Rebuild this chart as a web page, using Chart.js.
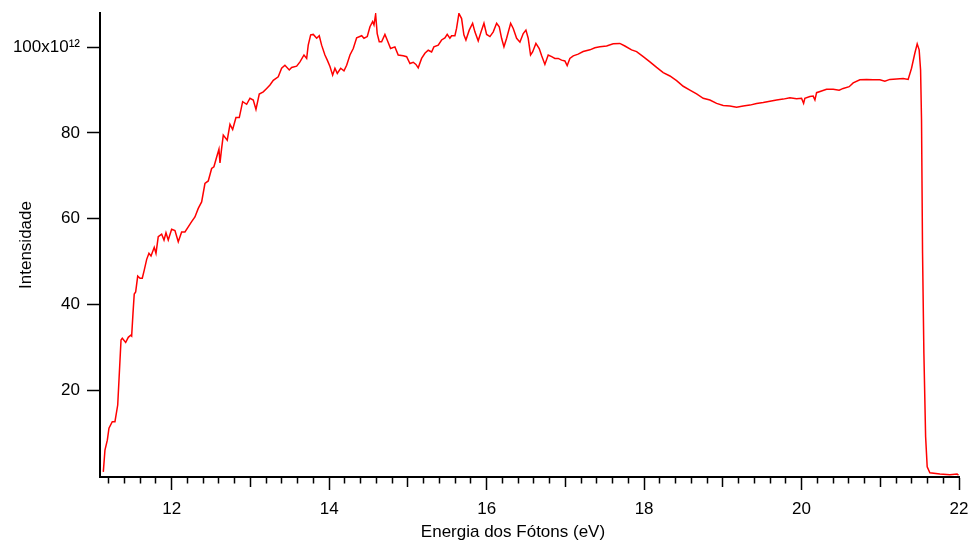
<!DOCTYPE html>
<html>
<head>
<meta charset="utf-8">
<script src="https://cdn.jsdelivr.net/npm/chart.js@4.4.0/dist/chart.umd.min.js"></script>
<style>
html,body{margin:0;padding:0;background:#fff;overflow:hidden}
canvas{display:block}
</style>
</head>
<body>
<canvas id="c" width="969" height="543"></canvas>
<script>
// Photon energy (eV)
const energy = [
11.131, 11.152, 11.182, 11.203, 11.245, 11.279, 11.314, 11.330, 11.356, 11.372,
11.415, 11.448, 11.479, 11.491, 11.508, 11.524, 11.542, 11.568, 11.597, 11.626,
11.651, 11.682, 11.711, 11.737, 11.778, 11.800, 11.829, 11.872, 11.902, 11.927,
11.956, 11.999, 12.041, 12.083, 12.126, 12.168, 12.210, 12.253, 12.295, 12.337,
12.380, 12.422, 12.464, 12.507, 12.536, 12.571, 12.600, 12.613, 12.634, 12.655,
12.705, 12.740, 12.774, 12.816, 12.858, 12.901, 12.952, 12.994, 13.036, 13.070,
13.112, 13.163, 13.206, 13.248, 13.290, 13.353, 13.396, 13.438, 13.493, 13.523,
13.587, 13.629, 13.680, 13.714, 13.734, 13.765, 13.798, 13.841, 13.874, 13.904,
13.946, 13.976, 14.010, 14.044, 14.073, 14.103, 14.146, 14.188, 14.222, 14.264,
14.306, 14.349, 14.413, 14.442, 14.484, 14.518, 14.552, 14.569, 14.590, 14.610,
14.636, 14.666, 14.708, 14.737, 14.780, 14.835, 14.877, 14.940, 14.984, 15.026,
15.068, 15.102, 15.131, 15.174, 15.216, 15.258, 15.301, 15.330, 15.385, 15.428,
15.470, 15.499, 15.533, 15.555, 15.597, 15.618, 15.648, 15.682, 15.711, 15.737,
15.779, 15.822, 15.851, 15.893, 15.936, 15.966, 16.000, 16.042, 16.084, 16.127,
16.160, 16.190, 16.220, 16.254, 16.305, 16.338, 16.381, 16.423, 16.465, 16.499,
16.528, 16.558, 16.584, 16.626, 16.668, 16.699, 16.740, 16.782, 16.826, 16.867,
16.909, 16.952, 16.994, 17.023, 17.057, 17.100, 17.163, 17.226, 17.312, 17.375,
17.439, 17.524, 17.608, 17.692, 17.756, 17.841, 17.905, 17.989, 18.074, 18.159,
18.243, 18.328, 18.413, 18.497, 18.582, 18.667, 18.751, 18.836, 18.921, 19.005,
19.090, 19.175, 19.259, 19.344, 19.429, 19.513, 19.598, 19.683, 19.767, 19.852,
19.937, 20.000, 20.026, 20.042, 20.106, 20.148, 20.170, 20.191, 20.254, 20.318,
20.402, 20.478, 20.529, 20.605, 20.656, 20.741, 20.826, 20.910, 20.995, 21.058,
21.122, 21.207, 21.291, 21.354, 21.397, 21.439, 21.469, 21.494, 21.512, 21.524,
21.537, 21.554, 21.576, 21.596, 21.630, 21.757, 21.884, 21.976, 21.994
];

// Intensity (units of 10^12)
const intensity = [
0.9, 6.0, 8.3, 11.1, 12.6, 12.6, 16.5, 22.3, 31.7, 32.1,
31.1, 32.3, 32.8, 32.6, 37.9, 42.4, 42.9, 46.6, 46.1, 46.1,
48.0, 50.5, 51.9, 51.3, 53.3, 51.9, 55.8, 56.4, 55.0, 56.7,
55.0, 57.5, 57.2, 54.6, 56.9, 56.9, 58.1, 59.3, 60.4, 62.4,
63.9, 68.2, 68.8, 71.7, 72.1, 74.4, 76.2, 73.0, 76.4, 79.5,
78.3, 82.0, 80.8, 83.6, 83.6, 87.3, 86.7, 88.1, 87.7, 85.5,
89.1, 89.6, 90.4, 91.2, 92.3, 93.1, 95.1, 95.8, 94.7, 95.3,
95.6, 96.6, 98.2, 97.4, 100.5, 102.9, 103.0, 102.1, 102.7, 100.5,
98.2, 97.0, 95.5, 93.5, 95.1, 93.9, 95.1, 94.5, 95.8, 98.2,
99.7, 102.2, 102.7, 102.1, 102.5, 104.8, 106.0, 105.2, 107.7, 103.2,
101.3, 101.3, 103.0, 101.7, 99.7, 100.1, 98.2, 98.0, 97.8, 96.2,
96.5, 96.0, 95.2, 97.4, 98.6, 99.3, 98.9, 100.1, 100.5, 101.7,
102.2, 103.0, 102.1, 102.7, 102.7, 104.4, 107.9, 106.7, 102.9, 101.7,
104.0, 105.6, 103.6, 101.5, 104.0, 105.6, 103.0, 102.5, 103.6, 105.6,
104.8, 102.1, 100.1, 102.1, 105.6, 104.4, 102.1, 101.2, 103.2, 104.0,
102.1, 98.2, 98.9, 100.9, 99.7, 98.0, 96.0, 98.2, 97.8, 97.4,
97.4, 97.0, 96.8, 95.7, 97.4, 98.0, 98.4, 99.0, 99.4, 99.9,
100.1, 100.3, 100.8, 100.9, 100.3, 99.4, 99.0, 97.8, 96.6, 95.3,
94.1, 93.3, 92.2, 90.9, 90.0, 89.1, 88.1, 87.7, 86.9, 86.4,
86.3, 86.0, 86.3, 86.5, 86.9, 87.1, 87.4, 87.7, 87.9, 88.2,
88.0, 88.1, 86.9, 88.1, 88.5, 88.6, 87.7, 89.4, 89.8, 90.2,
90.2, 90.0, 90.4, 90.8, 91.7, 92.4, 92.5, 92.4, 92.4, 92.1,
92.5, 92.6, 92.7, 92.5, 95.1, 98.6, 100.8, 99.4, 94.7, 83.0,
52.0, 28.6, 9.1, 2.1, 0.7, 0.4, 0.2, 0.4, 0.1
];

// Axis ticks
const yTickValues = [20, 40, 60, 80, 100];
const yTopLabel = '100x10\u00B9\u00B2';
const xTickValues = [];
for (let k = 56; k <= 110; k++) xTickValues.push(k / 5);
const xTitle = 'Energia dos F\u00F3tons (eV)';
const yTitle = 'Intensidade';

Chart.defaults.font.family = '"Liberation Sans", Arial, Helvetica, sans-serif';
Chart.defaults.color = '#000';

const points = energy.map((e, i) => ({x: e, y: intensity[i]}));

new Chart(document.getElementById('c'), {
  type: 'line',
  data: {
    datasets: [{
      data: points,
      borderColor: '#ff0000',
      borderWidth: 1.5,
      pointRadius: 0,
      tension: 0,
      fill: false
    }]
  },
  options: {
    responsive: false,
    devicePixelRatio: 1,
    animation: false,
    events: [],
    layout: {padding: {top: 13, right: 10, left: 0, bottom: 0}},
    plugins: {legend: {display: false}, tooltip: {enabled: false}},
    scales: {
      x: {
        type: 'linear',
        position: 'bottom',
        min: 11.089,
        max: 22,
        afterBuildTicks: s => { s.ticks = xTickValues.map(v => ({value: v})); },
        afterFit: s => { s.height = 66; s.paddingLeft = 0; s.paddingRight = 0; },
        ticks: {
          autoSkip: false,
          maxRotation: 0,
          padding: 9,
          font: {size: 17},
          color: '#000',
          callback: v => (Math.round(v * 5) % 10 === 0 ? String(Math.round(v)) : '')
        },
        grid: {
          display: true,
          drawOnChartArea: false,
          drawTicks: true,
          tickLength: 13,
          tickWidth: 1.5,
          tickColor: '#000',
          tickBorderDash: ctx => {
            const k = Math.round((ctx.tick ? ctx.tick.value : 0) * 5);
            if (k % 10 === 0) return [];
            if (k % 5 === 0) return [9, 40];
            return [5.5, 40];
          }
        },
        border: {display: true, color: '#000', width: 2},
        title: {
          display: true,
          text: xTitle + '\u00A0\u00A0\u00A0\u00A0\u00A0\u00A0\u00A0',
          font: {size: 17},
          color: '#000',
          padding: {top: 0, bottom: 0}
        }
      },
      y: {
        type: 'linear',
        position: 'left',
        min: -0.3,
        max: 108,
        afterBuildTicks: s => { s.ticks = yTickValues.map(v => ({value: v})); },
        afterFit: s => { s.width = 100; s.paddingTop = 0; s.paddingBottom = 0; },
        ticks: {
          padding: 7,
          font: {size: 17},
          color: '#000',
          callback: v => (v === 100 ? yTopLabel : String(v))
        },
        grid: {
          display: true,
          drawOnChartArea: false,
          drawTicks: true,
          tickLength: 13,
          tickWidth: 1.5,
          tickColor: '#000'
        },
        border: {display: true, color: '#000', width: 2},
        title: {
          display: true,
          text: yTitle,
          font: {size: 17},
          color: '#000',
          padding: {top: 16, bottom: 0}
        }
      }
    }
  }
});
</script>
</body>
</html>
